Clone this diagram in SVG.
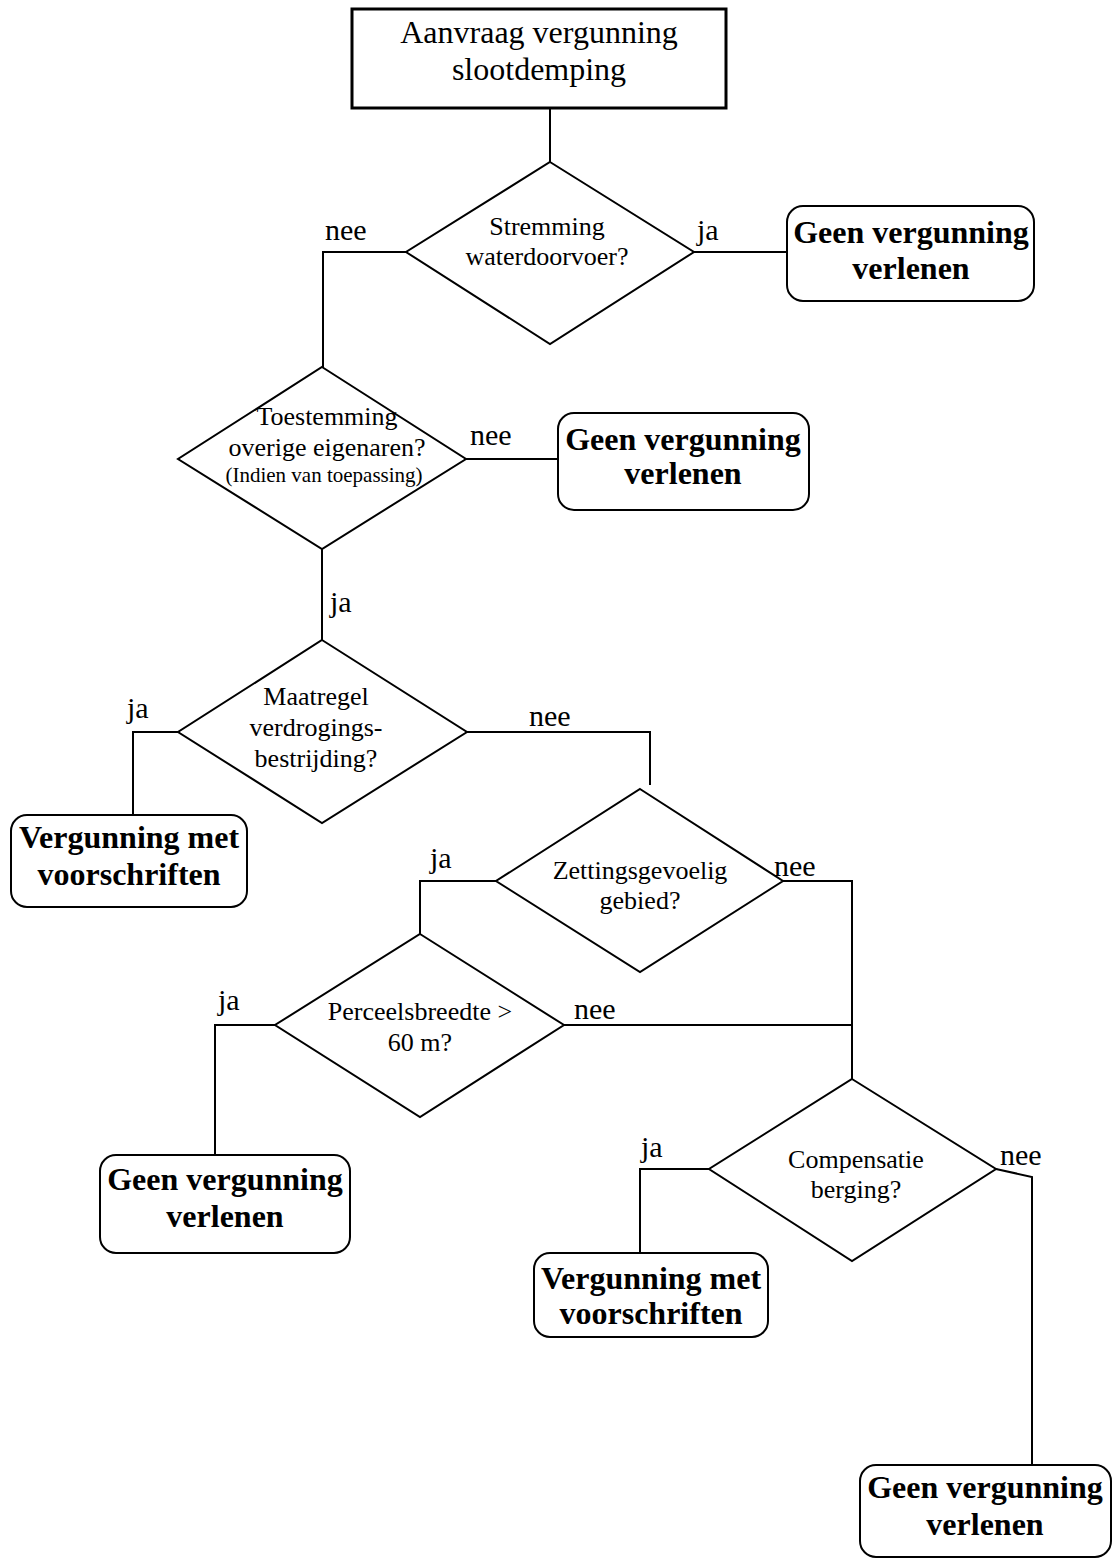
<svg xmlns="http://www.w3.org/2000/svg" width="1119" height="1559" viewBox="0 0 1119 1559">
<style>
.bg{fill:#fff}
.shape{fill:#fff;stroke:#000;stroke-width:2}
.box{fill:#fff;stroke:#000;stroke-width:3}
.line{fill:none;stroke:#000;stroke-width:2}
.t{font-family:"Liberation Serif","Times New Roman",serif;font-size:26px;fill:#000;text-anchor:middle}
.ts{font-family:"Liberation Serif","Times New Roman",serif;font-size:21px;fill:#000;text-anchor:middle}
.tb{font-family:"Liberation Serif","Times New Roman",serif;font-size:32px;font-weight:bold;fill:#000;text-anchor:middle}
.tt{font-family:"Liberation Serif","Times New Roman",serif;font-size:32px;fill:#000;text-anchor:middle}
.lbl{font-family:"Liberation Serif","Times New Roman",serif;font-size:30px;fill:#000}
</style>
<rect class="bg" x="0" y="0" width="1119" height="1559"/>
<g id="connectors">
<polyline class="line" points="550,108 550,162"/>
<polyline class="line" points="406,252 323,252 323,367"/>
<polyline class="line" points="694,252 787,252"/>
<polyline class="line" points="466,459 558,459"/>
<polyline class="line" points="322,549 322,640"/>
<polyline class="line" points="178,732 133,732 133,815"/>
<polyline class="line" points="467,732 650,732 650,785"/>
<polyline class="line" points="496,881 420,881 420,934"/>
<polyline class="line" points="783,881 852,881 852,1079"/>
<polyline class="line" points="275,1025 215,1025 215,1155"/>
<polyline class="line" points="564,1025 852,1025"/>
<polyline class="line" points="709,1169 640,1169 640,1253"/>
<polyline class="line" points="996,1169 1032,1177 1032,1465"/>
<text class="lbl" x="325" y="240">nee</text>
<text class="lbl" x="697" y="240">ja</text>
<text class="lbl" x="470" y="445">nee</text>
<text class="lbl" x="330" y="612">ja</text>
<text class="lbl" x="127" y="718">ja</text>
<text class="lbl" x="529" y="726">nee</text>
<text class="lbl" x="430" y="868">ja</text>
<text class="lbl" x="774" y="876">nee</text>
<text class="lbl" x="218" y="1010">ja</text>
<text class="lbl" x="574" y="1019">nee</text>
<text class="lbl" x="641" y="1157">ja</text>
<text class="lbl" x="1000" y="1165">nee</text>
</g>
<g id="start">
<rect class="box" x="352" y="9" width="374" height="99"/>
<text class="tt" x="539" y="43">Aanvraag vergunning</text>
<text class="tt" x="539" y="80">slootdemping</text>
</g>
<g id="d1">
<polygon class="shape" points="550,162 694,252 550,344 406,252"/>
<text class="t" x="547" y="235">Stremming</text>
<text class="t" x="547" y="265">waterdoorvoer?</text>
</g>
<g id="e1">
<rect class="shape" x="787" y="206" width="247" height="95" rx="16"/>
<text class="tb" x="911" y="243">Geen vergunning</text>
<text class="tb" x="911" y="279">verlenen</text>
</g>
<g id="d2">
<polygon class="shape" points="322,367 466,459 322,549 178,459"/>
<text class="t" x="327" y="425">Toestemming</text>
<text class="t" x="327" y="456">overige eigenaren?</text>
<text class="ts" x="324" y="482">(Indien van toepassing)</text>
</g>
<g id="e2">
<rect class="shape" x="558" y="413" width="251" height="97" rx="16"/>
<text class="tb" x="683" y="450">Geen vergunning</text>
<text class="tb" x="683" y="484">verlenen</text>
</g>
<g id="d3">
<polygon class="shape" points="322,640 467,732 322,823 178,732"/>
<text class="t" x="316" y="705">Maatregel</text>
<text class="t" x="316" y="736">verdrogings-</text>
<text class="t" x="316" y="767">bestrijding?</text>
</g>
<g id="e3">
<rect class="shape" x="11" y="815" width="236" height="92" rx="16"/>
<text class="tb" x="129" y="848">Vergunning met</text>
<text class="tb" x="129" y="885">voorschriften</text>
</g>
<g id="d4">
<polygon class="shape" points="640,789 783,881 640,972 496,881"/>
<text class="t" x="640" y="879">Zettingsgevoelig</text>
<text class="t" x="640" y="909">gebied?</text>
</g>
<g id="d5">
<polygon class="shape" points="420,934 564,1025 420,1117 275,1025"/>
<text class="t" x="420" y="1020">Perceelsbreedte &gt;</text>
<text class="t" x="420" y="1051">60 m?</text>
</g>
<g id="e5">
<rect class="shape" x="100" y="1155" width="250" height="98" rx="16"/>
<text class="tb" x="225" y="1190">Geen vergunning</text>
<text class="tb" x="225" y="1227">verlenen</text>
</g>
<g id="d6">
<polygon class="shape" points="852,1079 996,1169 852,1261 709,1169"/>
<text class="t" x="856" y="1168">Compensatie</text>
<text class="t" x="856" y="1198">berging?</text>
</g>
<g id="e6a">
<rect class="shape" x="534" y="1253" width="234" height="84" rx="16"/>
<text class="tb" x="651" y="1289">Vergunning met</text>
<text class="tb" x="651" y="1324">voorschriften</text>
</g>
<g id="e6b">
<rect class="shape" x="860" y="1465" width="251" height="92" rx="16"/>
<text class="tb" x="985" y="1498">Geen vergunning</text>
<text class="tb" x="985" y="1535">verlenen</text>
</g>
</svg>
